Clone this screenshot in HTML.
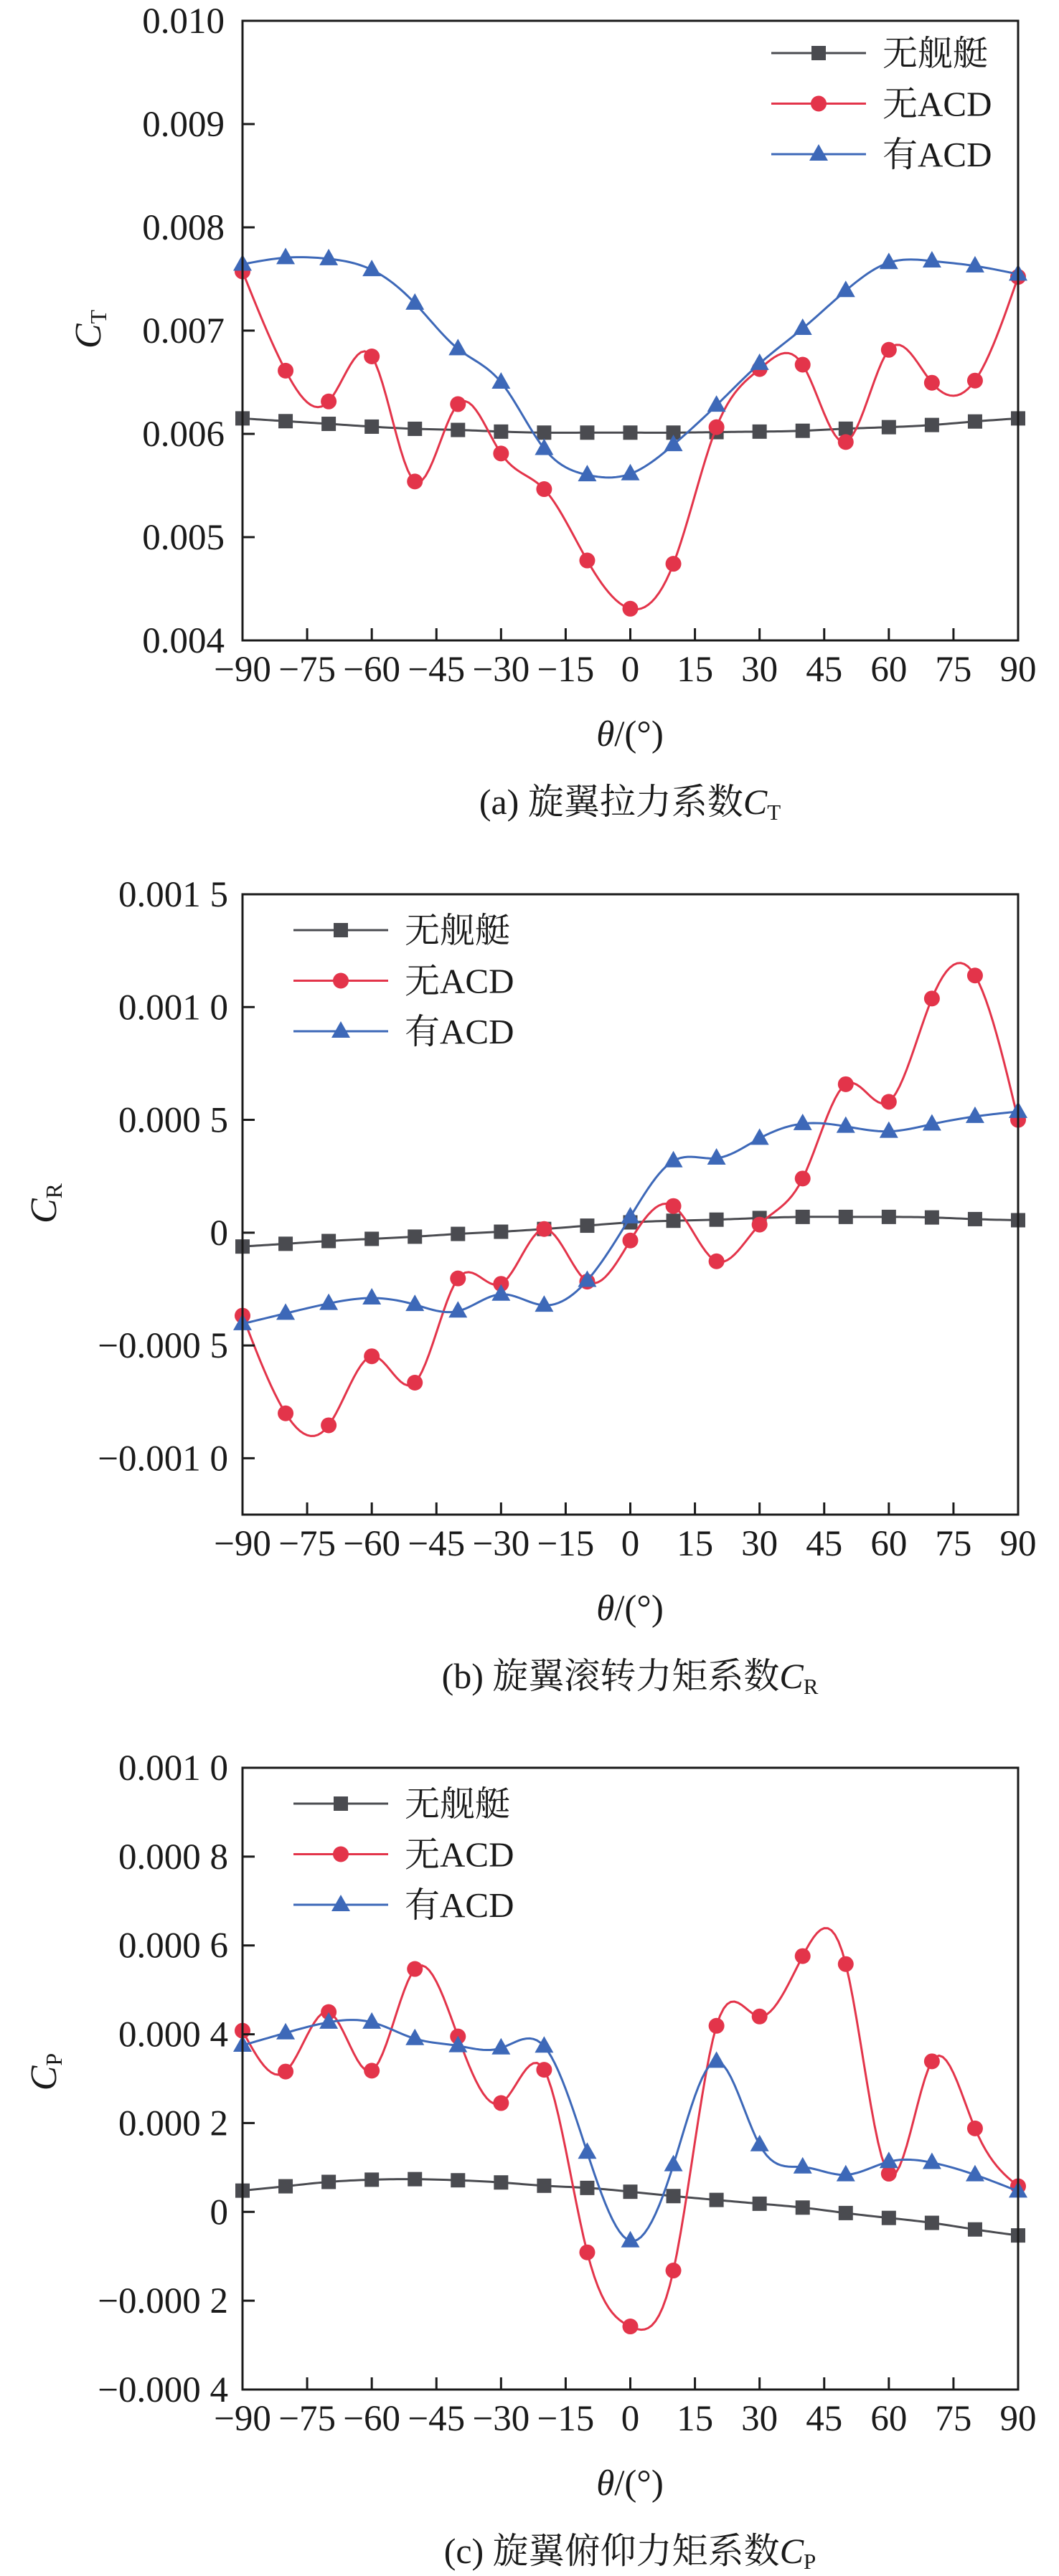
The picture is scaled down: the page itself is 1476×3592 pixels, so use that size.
<!DOCTYPE html>
<html><head><meta charset="utf-8"><style>
html,body{margin:0;padding:0;background:#fff;}
svg{display:block;}
text{font-family:"Liberation Serif","Noto Serif CJK SC",serif;fill:#1a1a1a;}
</style></head><body>
<svg id="fig" width="1476" height="3592" viewBox="0 0 1476 3592"></svg>
<script>
// shared x categories (deg)
const thetaCats = [-90,-80,-70,-60,-50,-40,-30,-20,-10,0,10,20,30,40,50,60,70,80,90];
const xTickLabels = [-90,-75,-60,-45,-30,-15,0,15,30,45,60,75,90];

// chart (a) C_T
const ctNoShip = [0.00615,0.006123,0.006097,0.00607,0.006049,0.006038,0.006022,0.006012,0.006012,0.006012,0.006012,0.006017,0.006022,0.00603,0.00605,0.006065,0.006086,0.00612,0.00615];
const ctNoACD  = [0.007573,0.006612,0.006314,0.00675,0.005539,0.006288,0.00581,0.005465,0.004774,0.004307,0.004742,0.006065,0.006628,0.00667,0.005921,0.006814,0.006495,0.006516,0.00752];
const ctACD    = [0.007642,0.007706,0.007695,0.007589,0.007265,0.006824,0.0065,0.005858,0.005603,0.005613,0.005895,0.006277,0.006681,0.007021,0.007387,0.007658,0.007674,0.007626,0.007546];
const ctTicks = [0.004,0.005,0.006,0.007,0.008,0.009,0.010];
const ctTickLabels = ["0.004","0.005","0.006","0.007","0.008","0.009","0.010"];

// chart (b) C_R
const crNoShip = [-0.0000615,-0.0000494,-0.0000372,-0.0000275,-0.0000178,-0.0000056,0.0000041,0.0000163,0.000031,0.0000455,0.0000528,0.0000576,0.0000649,0.0000698,0.0000698,0.0000698,0.0000674,0.00006,0.0000552];
const crNoACD  = [-0.000368,-0.000801,-0.000854,-0.000548,-0.000665,-0.000203,-0.000227,0.0000163,-0.000217,-0.0000348,0.000118,-0.000127,0.0000357,0.00024,0.000658,0.00058,0.001038,0.00114,0.0005];
const crACD    = [-0.000404,-0.000358,-0.000314,-0.00029,-0.000319,-0.000348,-0.000273,-0.000322,-0.000212,0.0000698,0.000318,0.00033,0.000418,0.000483,0.000471,0.000449,0.000481,0.000515,0.000537];
const crTicks = [-0.001,-0.0005,0,0.0005,0.001,0.0015];
const crTickLabels = ["\u22120.001 0","\u22120.000 5","0","0.000 5","0.001 0","0.001 5"];

// chart (c) C_P
const cpNoShip = [0.0000479,0.0000577,0.0000675,0.0000725,0.0000737,0.0000712,0.0000663,0.0000589,0.000054,0.0000454,0.0000356,0.0000269,0.0000184,0.0000097,-0.0000026,-0.0000136,-0.0000247,-0.0000395,-0.000053];
const cpNoACD  = [0.000408,0.000316,0.00045,0.000318,0.000547,0.000395,0.000245,0.00032,-0.0000911,-0.000258,-0.000132,0.000419,0.00044,0.000576,0.000558,0.000086,0.000339,0.000188,0.0000577];
const cpACD    = [0.000375,0.000403,0.000427,0.000427,0.00039,0.000374,0.000369,0.000373,0.000134,-0.0000653,0.000106,0.000339,0.000151,0.000101,0.0000835,0.000113,0.000111,0.0000835,0.0000466];
const cpTicks = [-0.0004,-0.0002,0,0.0002,0.0004,0.0006,0.0008,0.001];
const cpTickLabels = ["\u22120.000 4","\u22120.000 2","0","0.000 2","0.000 4","0.000 6","0.000 8","0.001 0"];

const NS="http://www.w3.org/2000/svg";
const svg=document.getElementById('fig');
const COL={black:'#4a4b50',red:'#e3344a',blue:'#3d68b8'};
function mk(tag,attrs,parent){const e=document.createElementNS(NS,tag);for(const k in attrs)e.setAttribute(k,attrs[k]);(parent||svg).appendChild(e);return e;}
// natural cubic spline through points (x increasing)
function spline(pts){
 const n=pts.length,x=pts.map(p=>p[0]),y=pts.map(p=>p[1]);
 const h=[],al=[],l=[1],mu=[0],z=[0],c=new Array(n).fill(0),b=[],d=[];
 for(let i=0;i<n-1;i++)h[i]=x[i+1]-x[i];
 for(let i=1;i<n-1;i++)al[i]=3/h[i]*(y[i+1]-y[i])-3/h[i-1]*(y[i]-y[i-1]);
 for(let i=1;i<n-1;i++){l[i]=2*(x[i+1]-x[i-1])-h[i-1]*mu[i-1];mu[i]=h[i]/l[i];z[i]=(al[i]-h[i-1]*z[i-1])/l[i];}
 l[n-1]=1;z[n-1]=0;c[n-1]=0;
 for(let j=n-2;j>=0;j--){c[j]=z[j]-mu[j]*c[j+1];b[j]=(y[j+1]-y[j])/h[j]-h[j]*(c[j+1]+2*c[j])/3;d[j]=(c[j+1]-c[j])/(3*h[j]);}
 let s='M'+x[0]+','+y[0];
 for(let i=0;i<n-1;i++){for(let k=1;k<=12;k++){const t=h[i]*k/12;s+=' L'+(x[i]+t).toFixed(2)+','+(y[i]+b[i]*t+c[i]*t*t+d[i]*t*t*t).toFixed(2);}}
 return s;}
function marker(g,kind,x,y,color){let m;
 if(kind==='sq'){m=mk('rect',{x:x-10,y:y-10,width:20,height:20,fill:color},g);}
 else if(kind==='ci'){m=mk('circle',{cx:x,cy:y,r:11,fill:color},g);}
 else {m=mk('polygon',{points:(x-13)+','+(y+9)+' '+(x+13)+','+(y+9)+' '+x+','+(y-14),fill:color},g);}
 return m;}

function drawChart(o){
 const L=338,R=1419,T=o.top,B=o.bottom;
 const xs=v=>L+(v+90)/180*(R-L);
 const ys=v=>T+(o.ymax-v)/(o.ymax-o.ymin)*(B-T);
 const g=mk('g',{});
 
 
 o.series.forEach(s=>{
  const sg=mk('g',{},g);
  
  
  const pts=thetaCats.map((c,i)=>[xs(c),ys(s.vals[i])]);
  const p=mk('path',{d:spline(pts),fill:'none',stroke:s.color,'stroke-width':3},sg);
  
  
  pts.forEach(pt=>{const m=marker(sg,s.kind,pt[0],pt[1],s.color);
   
   });
 });
 const fr=mk('rect',{x:L,y:T,width:R-L,height:B-T,fill:'none',stroke:'#1a1a1a','stroke-width':3},g);
 
 
 o.ticks.forEach((t,i)=>{const y=ys(t);
  mk('line',{x1:L,x2:L+17,y1:y,y2:y,stroke:'#1a1a1a','stroke-width':3},g);
  const tx=mk('text',{x:o.labelRight,y:y+17,'text-anchor':'end','font-size':51},g);
  tx.textContent=o.tickLabels[i];
  
  });
 xTickLabels.forEach(v=>{const x=xs(v);
  if(v>-90&&v<90) mk('line',{x1:x,x2:x,y1:B,y2:B-17,stroke:'#1a1a1a','stroke-width':3},g);
  const tx=mk('text',{x:x,y:B+57,'text-anchor':'middle','font-size':51},g);
  tx.textContent=(v<0?'\u2212'+(-v):''+v);
  
  });
 const xt=mk('text',{x:878,y:B+147,'text-anchor':'middle','font-size':51},g);
 xt.innerHTML='<tspan font-style="italic">θ</tspan>/(°)';
 
 
 const yt=mk('text',{x:0,y:0,'text-anchor':'middle','font-size':52,transform:'translate('+(o.ytx+17)+','+o.yty+') rotate(-90)'},g);
 yt.innerHTML='<tspan font-style="italic">C</tspan><tspan font-size="32" dy="8">'+o.sub+'</tspan>';
 
 
 const cp=mk('text',{x:878,y:B+242,'text-anchor':'middle','font-size':50},g);
 cp.innerHTML=o.caption+'<tspan font-style="italic">C</tspan><tspan font-size="31" dy="8">'+o.sub+'</tspan>';
 
 
 const lg=mk('g',{},g);
 
 
 o.series.forEach((s,i)=>{const y=o.legY+i*70.5;
  const eg=mk('g',{},lg);
  
  
  mk('line',{x1:o.legX,x2:o.legX+132,y1:y,y2:y,stroke:s.color,'stroke-width':3},eg);
  marker(eg,s.kind,o.legX+66,y,s.color);
  const t=mk('text',{x:o.legX+155,y:y+17,'font-size':49},eg);
  t.textContent=s.label;});
}

drawChart({name:'chart-ct',top:29,bottom:893,ymin:0.004,ymax:0.010,ticks:ctTicks,tickLabels:ctTickLabels,labelRight:313,
 ytx:123,yty:459,sub:'T',caption:'(a) 旋翼拉力系数',legX:1075,legY:74,
 series:[{name:'series-no-ship',label:'无舰艇',vals:ctNoShip,color:COL.black,kind:'sq'},
         {name:'series-no-acd',label:'无ACD',vals:ctNoACD,color:COL.red,kind:'ci'},
         {name:'series-with-acd',label:'有ACD',vals:ctACD,color:COL.blue,kind:'tr'}]});
drawChart({name:'chart-cr',top:1247,bottom:2112,ymin:-0.00125,ymax:0.0015,ticks:crTicks,tickLabels:crTickLabels,labelRight:318,
 ytx:61,yty:1678,sub:'R',caption:'(b) 旋翼滚转力矩系数',legX:409,legY:1297,
 series:[{name:'series-no-ship',label:'无舰艇',vals:crNoShip,color:COL.black,kind:'sq'},
         {name:'series-no-acd',label:'无ACD',vals:crNoACD,color:COL.red,kind:'ci'},
         {name:'series-with-acd',label:'有ACD',vals:crACD,color:COL.blue,kind:'tr'}]});
drawChart({name:'chart-cp',top:2465,bottom:3332,ymin:-0.0004,ymax:0.001,ticks:cpTicks,tickLabels:cpTickLabels,labelRight:318,
 ytx:61,yty:2889,sub:'P',caption:'(c) 旋翼俯仰力矩系数',legX:409,legY:2515,
 series:[{name:'series-no-ship',label:'无舰艇',vals:cpNoShip,color:COL.black,kind:'sq'},
         {name:'series-no-acd',label:'无ACD',vals:cpNoACD,color:COL.red,kind:'ci'},
         {name:'series-with-acd',label:'有ACD',vals:cpACD,color:COL.blue,kind:'tr'}]});
</script>
</body></html>
